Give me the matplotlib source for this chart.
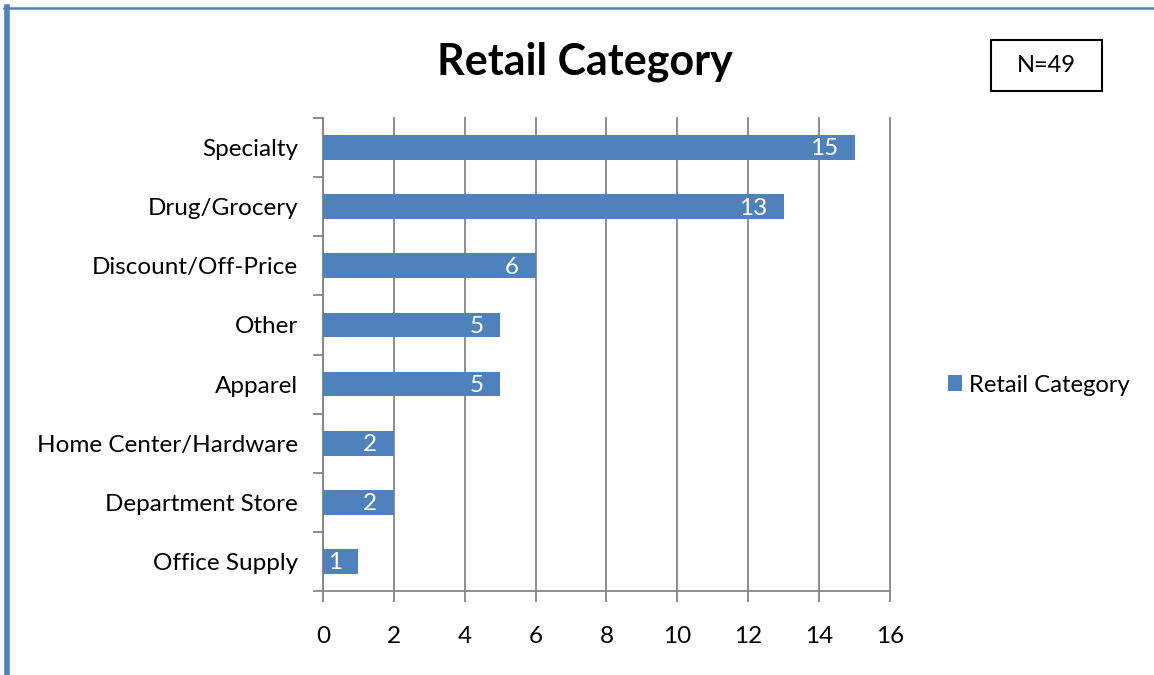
import matplotlib
matplotlib.use("Agg")
import matplotlib.pyplot as plt
from matplotlib.lines import Line2D
from matplotlib.patches import Rectangle

plt.rcParams['font.family'] = ['Lato', 'DejaVu Sans']

categories = ["Specialty", "Drug/Grocery", "Discount/Off-Price", "Other",
              "Apparel", "Home Center/Hardware", "Department Store", "Office Supply"]
counts = [15, 13, 6, 5, 5, 2, 2, 1]
x_ticks = [0, 2, 4, 6, 8, 10, 12, 14, 16]
series_name = "Retail Category"
n_total = "N=49"

blue = "#4F81BD"
grey = "#868686"

fig = plt.figure(figsize=(11.54, 6.75), dpi=100)
ax = fig.add_axes([0.2799, 0.1244, 0.4913, 0.7008])

pos = list(range(len(categories)))[::-1]
bars = ax.barh(pos, counts, height=0.42, color=blue, label=series_name, zorder=3)

for b, v in zip(bars, counts):
    ax.annotate(str(v), (b.get_width(), b.get_y() + b.get_height() / 2),
                xytext=(-12, -1), textcoords="offset points", ha="right", va="center",
                color="white", fontsize=17.5, zorder=4)

ax.set_xlim(0, 16)
ax.set_ylim(-0.5, len(categories) - 0.5)
ax.set_xticks(x_ticks)
ax.set_xticklabels([str(t) for t in x_ticks], fontsize=17.5)
ax.tick_params(axis="x", length=8, width=1.3, color=grey, pad=17)

# category labels on minor ticks, tick marks on the boundaries
ax.set_yticks([p + 0.5 for p in range(-1, len(categories))])
ax.set_yticklabels([])
ax.set_yticks(pos, minor=True)
ax.set_yticklabels(categories, minor=True, fontsize=17.5)
ax.tick_params(axis="y", which="major", length=7, width=1.3, color=grey)
ax.tick_params(axis="y", which="minor", length=0, pad=18)

ax.grid(axis="x", color=grey, linewidth=1.3, zorder=0)
for gl in ax.get_xgridlines():
    gl.set_clip_on(False)
for s in ["top", "right"]:
    ax.spines[s].set_visible(False)
for s in ["left", "bottom"]:
    ax.spines[s].set_color(grey)
    ax.spines[s].set_linewidth(1.3)

fig.text(0.507, 0.909, series_name, ha="center", va="center",
         fontsize=31, fontweight="bold")

# N box
fig.patches.append(Rectangle((991 / 1154, 1 - 91 / 675), 111 / 1154, 51 / 675,
                             transform=fig.transFigure, fill=False,
                             edgecolor="black", linewidth=1.5))
fig.text(1046 / 1154, 1 - 66 / 675, n_total, ha="center", va="center", fontsize=17)

fig.legend(loc="center left", bbox_to_anchor=(926 / 1154, 1 - 385 / 675),
           frameon=False, fontsize=17.2, handlelength=0.6, handleheight=0.6,
           handletextpad=0.3)

# outer frame (left and top edges)
fig.add_artist(Line2D([6.5 / 1154, 6.5 / 1154], [0, 1 - 7 / 675],
                      transform=fig.transFigure, color=blue, linewidth=4))
fig.add_artist(Line2D([4 / 1154, 1], [1 - 8 / 675, 1 - 8 / 675],
                      transform=fig.transFigure, color=blue, linewidth=1.8))

fig.savefig("out.png", dpi=100)
